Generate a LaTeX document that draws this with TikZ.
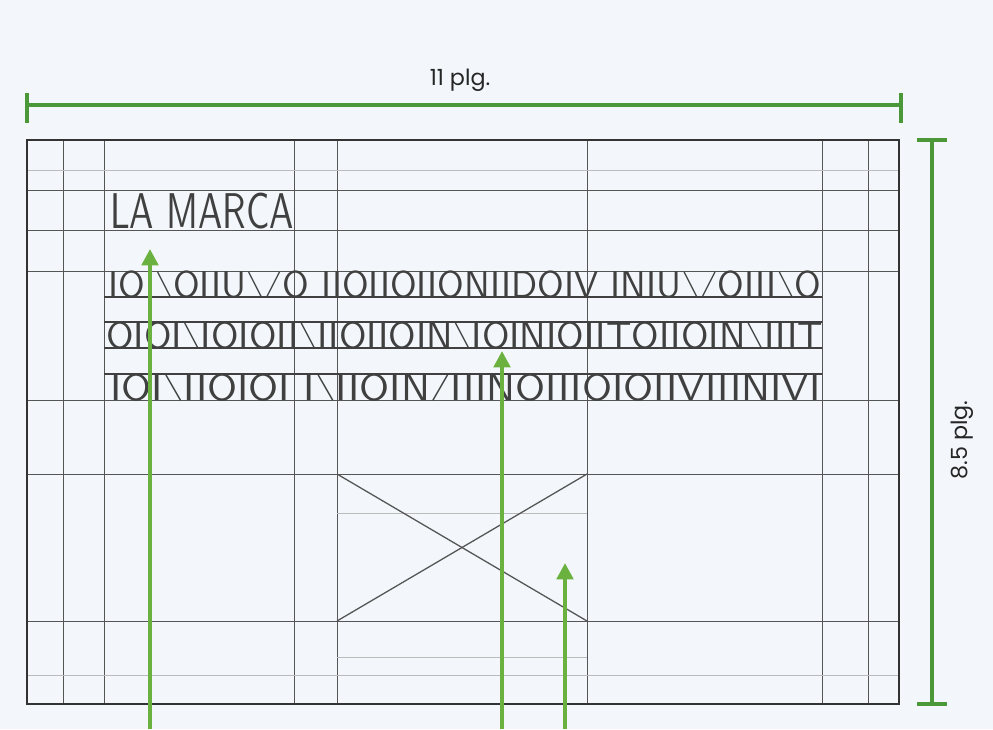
\documentclass[tikz,border=0pt]{standalone}
\usepackage{fontspec}
\usepackage{graphicx}
\newfontfamily\labelfont{Poppins}
\usetikzlibrary{arrows.meta}

\definecolor{bgpaper}{HTML}{F3F7FB}
\definecolor{pencil}{HTML}{555555}
\definecolor{dimgreen}{HTML}{4A9838}
\definecolor{callgreen}{HTML}{6BB13F}

\newcommand\bs{\raisebox{0.1725em}{\scalebox{1}[0.69]{\textbackslash}}}
\newcommand\fs{\raisebox{0.1725em}{\scalebox{1}[0.69]{/}}}
\newcommand\scrawlrow[3]{\resizebox*{#1}{#2}{\raisebox{0pt}[\height][0pt]{#3}}}

\begin{document}
\begin{tikzpicture}[
    x=0.03cm, y=-0.03cm,
    grid/.style={draw=pencil, line width=0.8pt},
    faint/.style={draw=pencil!40, line width=0.6pt},
    band/.style={draw=black!75, line width=1.3pt},
    frame/.style={draw=black!80, line width=1.6pt},
    dimline/.style={draw=dimgreen, line width=3pt},
    callout/.style={draw=callgreen, line width=3.4pt,
                    -{Triangle[length=14pt, width=14pt]}},
    scrawl/.style={inner sep=0pt, anchor=south west, text=black!75,
                   font=\sffamily},
    dimlabel/.style={inner sep=0pt, text=black!85,
                     font=\labelfont\fontsize{19}{22}\selectfont}
  ]

  \useasboundingbox[fill=bgpaper] (0,0) rectangle (993,729);

  % ---- pencil grid ----
  \foreach \gx in {63,104,294,337,587,822,868}
    \draw[grid] (\gx,140) -- (\gx,704);
  \foreach \gy in {190,230,271,400,474,621}
    \draw[grid] (27,\gy) -- (899,\gy);
  \draw[faint] (27,170) -- (899,170);
  \draw[faint] (27,675) -- (899,675);
  \draw[faint] (337,513) -- (587,513);
  \draw[faint] (337,657) -- (587,657);

  % ---- text bands ----
  \foreach \gy in {297,322,348,374}
    \draw[band] (104,\gy) -- (822,\gy);

  % ---- page frame ----
  \draw[frame] (27,140) rectangle (899,704);

  % ---- brand ----
  \node[scrawl] (brand) at (110,229)
    {\resizebox*{5.5cm}{1.08cm}{LA MARCA}};

  % ---- body copy scribble ----
  \node[scrawl] (rowa) at (108,298)
    {\scrawlrow{21.4cm}{0.8cm}{IOI\bs OIIU\bs\fs O IIOIIOIIONIIDOIV INIU\bs\fs OIII\bs O}};
  \node[scrawl] (rowb) at (106,349)
    {\scrawlrow{21.5cm}{0.8cm}{OIOI\bs IOIOII\bs IIOIIOIN\bs IOINIOIITOIIOIN\bs IIIT}};
  \node[scrawl] (rowc) at (110,401)
    {\scrawlrow{21.3cm}{0.8cm}{IOI\bs IIOIOI I\bs IIOIN\fs IIINOIIIOIOIIVIIINIVI}};

  % ---- image placeholder ----
  \draw[grid, line width=1.1pt] (337,474) -- (587,621);
  \draw[grid, line width=1.1pt] (337,621) -- (587,474);

  % ---- dimensions ----
  \coordinate (wl) at (27,105);
  \coordinate (wr) at (901,105);
  \draw[dimline] (wl) -- (wr);
  \draw[dimline] (27,93) -- (27,123);
  \draw[dimline] (901,93) -- (901,123);
  \node[dimlabel] (widthlabel) at (460,80) {11 plg.};

  \coordinate (ht) at (932,140);
  \coordinate (hb) at (932,704);
  \draw[dimline] (ht) -- (hb);
  \draw[dimline] (917,140) -- (947,140);
  \draw[dimline] (917,704) -- (947,704);
  \node[dimlabel, rotate=90] (heightlabel) at (962,440) {8.5 plg.};

  % ---- callouts ----
  \coordinate (brandfoot) at (150,729);
  \coordinate (brandtip) at (150,249);
  \coordinate (copyfoot) at (502,729);
  \coordinate (copytip) at (502,351);
  \coordinate (imagefoot) at (565,729);
  \coordinate (imagetip) at (565,563);
  \draw[callout] (brandfoot) -- (brandtip);
  \draw[callout] (copyfoot) -- (copytip);
  \draw[callout] (imagefoot) -- (imagetip);

\end{tikzpicture}
\end{document}
